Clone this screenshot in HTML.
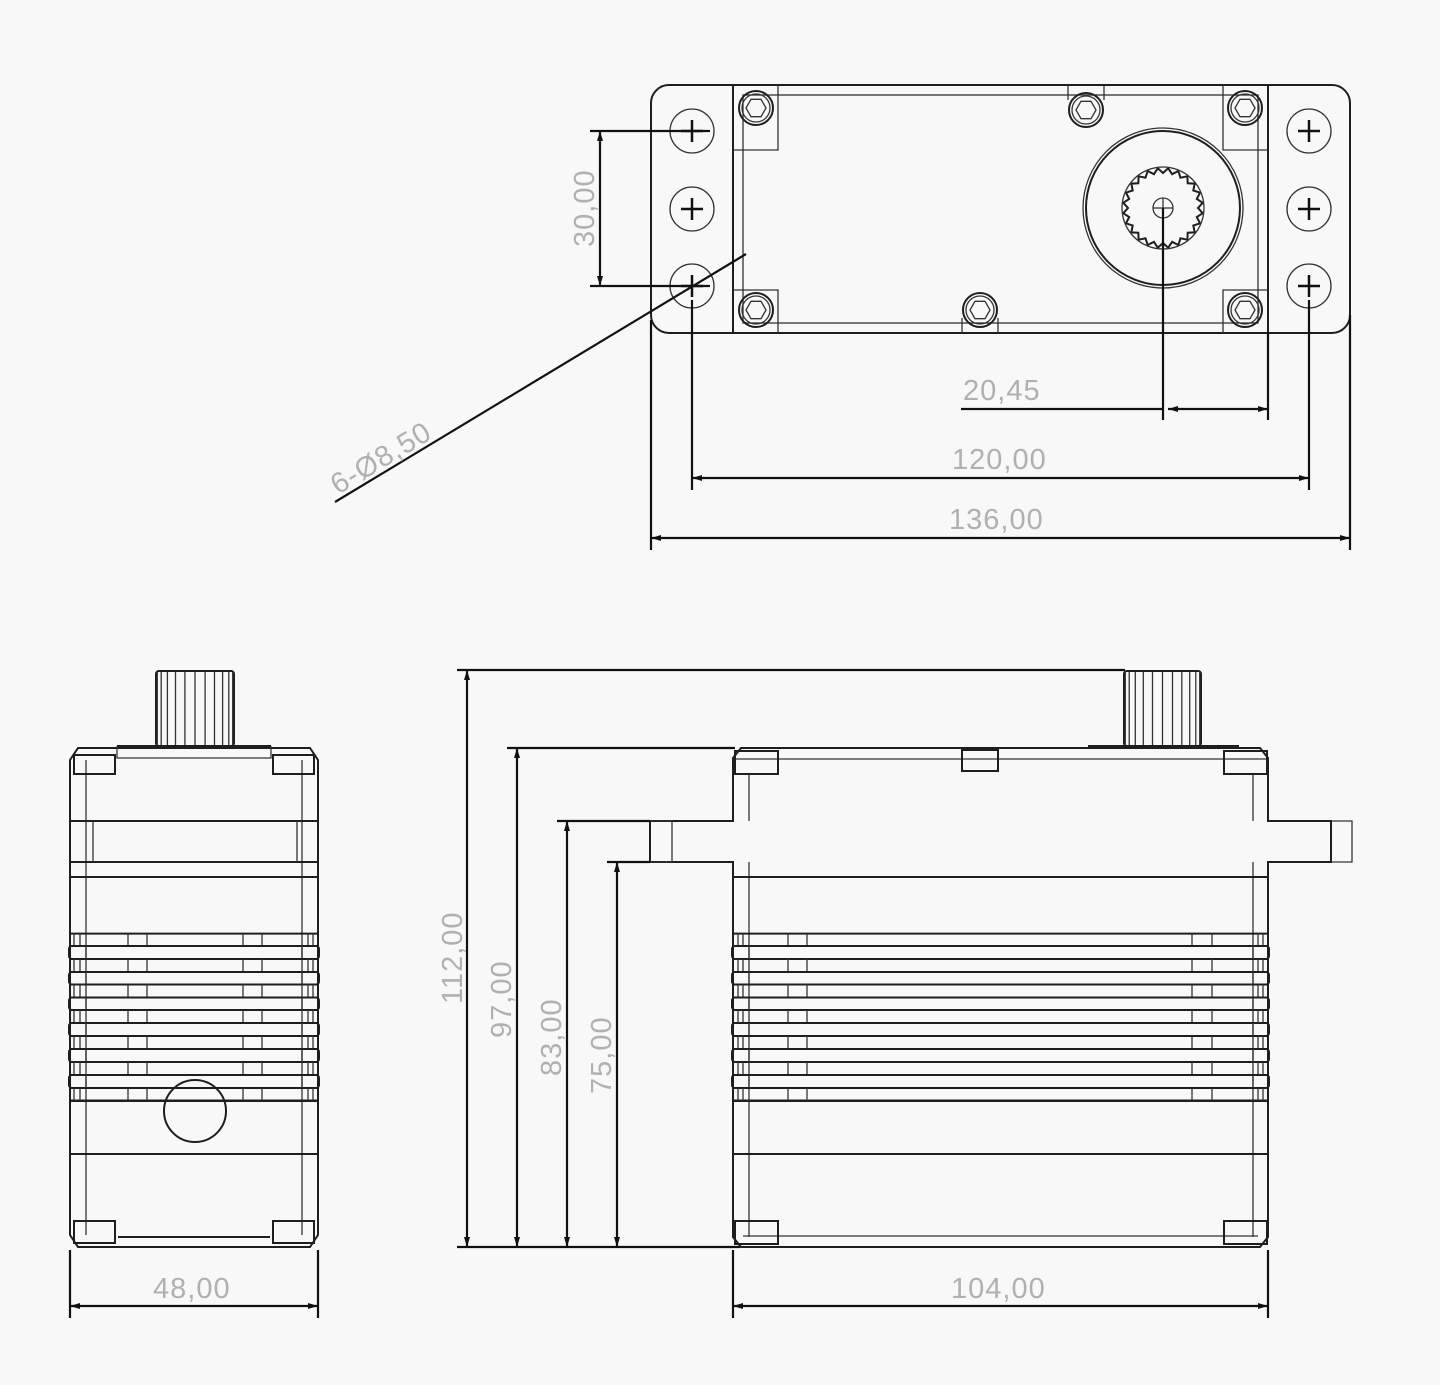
<!DOCTYPE html>
<html><head><meta charset="utf-8"><style>
html,body{margin:0;padding:0;background:#f8f8f8;}
svg{display:block;}
.l{stroke:#1e1e1e;stroke-width:2;fill:none;}
.t{stroke:#333;stroke-width:1.3;fill:none;}
.d{stroke:#111;stroke-width:2.2;fill:none;}
text{font-family:"Liberation Sans",sans-serif;font-size:29px;fill:#b0b0b0;letter-spacing:1px;}
</style></head><body>
<svg id="s" width="1440" height="1385" viewBox="0 0 1440 1385" xmlns="http://www.w3.org/2000/svg">
<defs>
<marker id="a" viewBox="0 0 10 6" refX="10" refY="3" markerWidth="10" markerHeight="6" orient="auto-start-reverse" markerUnits="userSpaceOnUse"><path d="M0,0 L10,3 L0,6 z" fill="#111"/></marker>
</defs>
<!-- TOP VIEW -->
<rect class="l" x="651" y="85" width="699" height="248" rx="18"/>
<line class="l" x1="733" y1="85" x2="733" y2="333"/><line class="l" x1="1268" y1="85" x2="1268" y2="333"/>
<rect class="t" x="743" y="95" width="515" height="228"/>
<path class="t" d="M778,85V150H733M1223,85V150H1268M778,333V290H733M1223,333V290H1268M1068,85V100M1104,85V100M962,333V318M998,333V318"/>
<g id="hx"></g>
<g class="t">
<circle cx="692" cy="131" r="22"/><circle cx="692" cy="209" r="22"/><circle cx="692" cy="286" r="22"/>
<circle cx="1309" cy="131" r="22"/><circle cx="1309" cy="209" r="22"/><circle cx="1309" cy="286" r="22"/>
</g>
<g stroke="#111" stroke-width="2.5">
<path d="M681,131h22M692,120v22M681,209h22M692,198v22M681,286h22M692,275v22"/>
<path d="M1298,131h22M1309,120v22M1298,209h22M1309,198v22M1298,286h22M1309,275v22"/>
</g>
<circle class="l" cx="1163" cy="208" r="77"/>
<circle class="t" cx="1163" cy="208" r="80"/>
<g id="teeth"></g>
<circle class="t" cx="1163" cy="208" r="10"/>
<path class="t" d="M1153,208h20M1163,198v20"/>
<path class="d" d="M590,131h120M590,286h120"/>
<line class="d" x1="600" y1="131" x2="600" y2="286" marker-start="url(#a)" marker-end="url(#a)"/>
<text transform="translate(594,247) rotate(-90)">30,00</text>
<line class="d" x1="335" y1="502" x2="746" y2="254"/>
<text transform="translate(338,495) rotate(-31)">6-Ø8,50</text>
<path class="d" d="M1163,208V420M1268,333V420"/>
<line class="d" x1="961" y1="409" x2="1163" y2="409"/>
<line class="d" x1="1168" y1="409" x2="1268" y2="409" marker-start="url(#a)" marker-end="url(#a)"/>
<text x="963" y="400">20,45</text>
<path class="d" d="M692,300V490M1309,300V490"/>
<line class="d" x1="692" y1="478" x2="1309" y2="478" marker-start="url(#a)" marker-end="url(#a)"/>
<text x="952" y="469">120,00</text>
<path class="d" d="M651,320V550M1350,315V550"/>
<line class="d" x1="651" y1="538" x2="1350" y2="538" marker-start="url(#a)" marker-end="url(#a)"/>
<text x="949" y="529">136,00</text>

<!-- SIDE VIEW -->
<g id="side">
<rect class="l" x="156" y="671" width="78" height="75" rx="3"/>
<g id="sp1"></g>
<path class="l" d="M117,746H271M70,760l8,-12H310l8,12V1235l-8,12H78l-8,-12Z"/>
<path class="t" d="M86,760V1235M302,760V1235M117,746V758H271V746"/>
<rect class="l" x="74" y="755" width="41" height="19"/><rect class="l" x="273" y="755" width="41" height="19"/>
<rect class="l" x="74" y="1221" width="41" height="22"/><rect class="l" x="273" y="1221" width="41" height="22"/>
<path class="l" d="M70,821H318M70,862H318M70,877H318M70,1101H318M70,1154H318M118,1237H270"/>
<path class="t" d="M93,821V862M297,821V862"/>
<circle class="l" cx="195" cy="1111" r="31"/>
</g>
<path class="d" d="M70,1250V1318M318,1250V1318"/>
<line class="d" x1="70" y1="1306" x2="318" y2="1306" marker-start="url(#a)" marker-end="url(#a)"/>
<text x="153" y="1298">48,00</text>

<!-- FRONT VIEW -->
<rect class="l" x="1124" y="671" width="77" height="75" rx="3"/>
<g id="sp2"></g>
<path class="l" d="M1088,746H1239"/>
<path class="l" d="M741,748H1260l8,10V821H1331V862H1268V1237l-8,10H741l-8,-10V862H650V821H733V758Z"/>
<path class="t" d="M1331,821h21v41h-21M650,821h22v41h-22"/>
<path class="t" d="M749,775V821M749,862V1237M1253,775V821M1253,862V1237M733,759H1268M743,1236H1258"/>
<rect class="l" x="735" y="751" width="43" height="23"/><rect class="l" x="1224" y="751" width="43" height="23"/>
<rect class="l" x="735" y="1221" width="43" height="23"/><rect class="l" x="1224" y="1221" width="43" height="23"/>
<rect class="l" x="962" y="750" width="36" height="21"/>
<path class="l" d="M733,877H1268M733,1101H1268M733,1154H1268"/>
<g id="ribs"></g>
<path class="d" d="M457,670H1125M507,748H735M557,821H650M607,862H650M457,1247H740"/>
<line class="d" x1="467" y1="670" x2="467" y2="1247" marker-start="url(#a)" marker-end="url(#a)"/>
<line class="d" x1="517" y1="748" x2="517" y2="1247" marker-start="url(#a)" marker-end="url(#a)"/>
<line class="d" x1="567" y1="821" x2="567" y2="1247" marker-start="url(#a)" marker-end="url(#a)"/>
<line class="d" x1="617" y1="862" x2="617" y2="1247" marker-start="url(#a)" marker-end="url(#a)"/>
<text transform="translate(462,1004) rotate(-90)">112,00</text>
<text transform="translate(511,1038) rotate(-90)">97,00</text>
<text transform="translate(561,1076) rotate(-90)">83,00</text>
<text transform="translate(611,1094) rotate(-90)">75,00</text>
<path class="d" d="M733,1250V1318M1268,1250V1318"/>
<line class="d" x1="733" y1="1306" x2="1268" y2="1306" marker-start="url(#a)" marker-end="url(#a)"/>
<text x="951" y="1298">104,00</text>
</svg>
<script>
var NS="http://www.w3.org/2000/svg";
function el(p,t,a){var e=document.createElementNS(NS,t);for(var k in a)e.setAttribute(k,a[k]);p.appendChild(e);return e;}
var hx=document.getElementById('hx');
[[756,108],[1245,108],[756,310],[1245,310],[1086,110],[980,310]].forEach(function(c){
 el(hx,'circle',{cx:c[0],cy:c[1],r:17,'class':'l'});
 el(hx,'circle',{cx:c[0],cy:c[1],r:14,'class':'t'});
 var p='';for(var i=0;i<6;i++){var a=Math.PI/3*i;p+=(i?'L':'M')+(c[0]+10*Math.cos(a)).toFixed(1)+','+(c[1]+10*Math.sin(a)).toFixed(1);}
 el(hx,'path',{d:p+'Z','class':'t'});
});
var tg=document.getElementById('teeth'),p='';
for(var i=0;i<48;i++){var a=Math.PI*2*i/48,r=(i%2?40:35);p+=(i?'L':'M')+(1163+r*Math.cos(a)).toFixed(1)+','+(208+r*Math.sin(a)).toFixed(1);}
el(tg,'path',{d:p+'Z','class':'l'});
el(tg,'circle',{cx:1163,cy:208,r:41,'class':'t'});
function spl(id,x0,w){var g=document.getElementById(id),d='';
 for(var i=1;i<12;i++){var x=x0+w/2-(w/2)*Math.cos(Math.PI*i/12);d+='M'+x.toFixed(1)+',672V745';}
 el(g,'path',{d:d,'class':'t'});}
spl('sp1',156,78);spl('sp2',1124,77);
var ys=[933.6,946,959,972,984.5,997.5,1010,1023,1036,1049,1062,1075,1088,1100.5];
var rg=document.getElementById('ribs');
function ribs(x0,x1,marks,inner){
 ys.forEach(function(y){el(rg,'line',{x1:x0,y1:y,x2:x1,y2:y,'class':'l'});});
 for(var i=0;i<13;i++){var y0=ys[i],y1=ys[i+1];
  if(i%2==1){el(rg,'rect',{x:x0-1,y:y0,width:x1-x0+2,height:y1-y0,rx:3,'class':'l'});
   el(rg,'path',{d:'M'+inner[0]+','+y0+'V'+y1+'M'+inner[1]+','+y0+'V'+y1,'class':'t'});}
  else{var d='';marks.forEach(function(m){d+='M'+m+','+y0+'V'+y1;});el(rg,'path',{d:d,'class':'t'});}
 }
}
ribs(733,1268,[738,743,788,807,1192,1212,1258,1263],[749,1253]);
ribs(70,318,[74,80,128,147,243,262,308,313],[86,302]);
</script>
</body></html>
